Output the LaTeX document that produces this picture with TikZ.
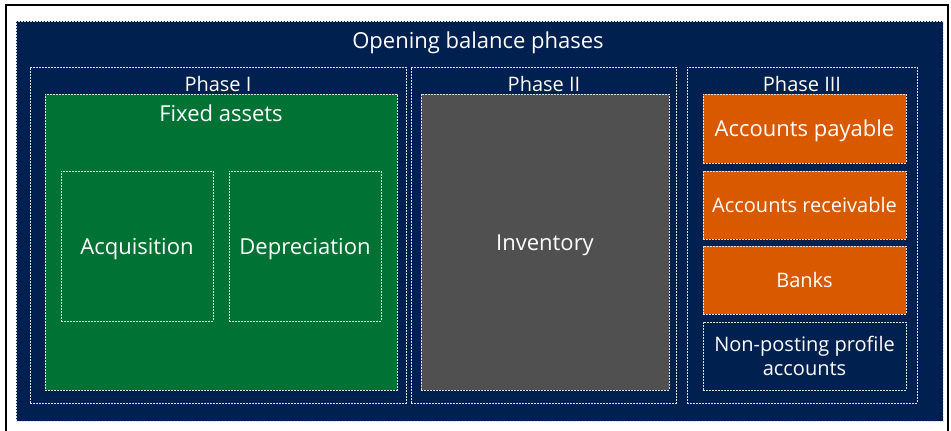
\documentclass[tikz,border=0pt]{standalone}
\usepackage{fontspec}
\setmainfont{Open Sans}
\usepackage{tikz}

\definecolor{navy}{RGB}{0,32,80}
\definecolor{fagreen}{RGB}{0,114,51}
\definecolor{invgray}{RGB}{80,80,80}
\definecolor{phorange}{RGB}{216,89,0}

\tikzset{
  box/.style={anchor=north west,inner sep=0pt,outer sep=0pt,
    draw=white!75!gray,line width=0.6pt,dash pattern=on 2pt off 1pt},
  title/.style={text=white,inner sep=0pt,text depth=0pt},
  leaf/.style={title},
  twoline/.style={text=white,inner sep=0pt,align=center},
  bigtext/.style={font=\fontsize{22}{26}\selectfont,text height=16pt},
  midtext/.style={font=\fontsize{20}{24}\selectfont,text height=14.5pt},
  midfont/.style={font=\fontsize{20}{24}\selectfont}
}

\begin{document}
\begin{tikzpicture}[x=1pt,y=-1pt]
\useasboundingbox (0,0) rectangle (951,431);
\fill[white] (0,0) rectangle (951,431);

% frame
\draw[line width=2pt] (6,431) -- (6,5) -- (948,5) -- (948,431);

% outer box
\node[box,fill=navy,minimum width=927,minimum height=400] (opening) at (16,21) {};
\node[title,bigtext] (openingtitle) at (478,40) {Opening balance phases};

% phases
\node[box,minimum width=376,minimum height=336] (phaseone) at (30,67) {};
\node[box,minimum width=265,minimum height=336] (phasetwo) at (411,67) {};
\node[box,minimum width=230,minimum height=336] (phasethree) at (687,67) {};
\node[title,midtext] (phaseonetitle) at (218,84) {Phase I};
\node[title,midtext] (phasetwotitle) at (544,84) {Phase II};
\node[title,midtext] (phasethreetitle) at (802,84) {Phase III};

% phase I
\node[box,fill=fagreen,minimum width=352,minimum height=296] (fixedassets) at (45,94) {};
\node[title,bigtext] (fixedassetstitle) at (221,113) {Fixed assets};
\node[box,minimum width=152,minimum height=150] (acquisition) at (61,171) {};
\node[box,minimum width=152,minimum height=150] (depreciation) at (229,171) {};
\node[leaf,bigtext] at (acquisition.center) {Acquisition};
\node[leaf,bigtext] at (depreciation.center) {Depreciation};

% phase II
\node[box,fill=invgray,minimum width=248,minimum height=296] (inventory) at (421,94) {};
\node[leaf,bigtext] at (inventory.center) {Inventory};

% phase III
\node[box,fill=phorange,minimum width=203,minimum height=69] (payable) at (703,94) {};
\node[box,fill=phorange,minimum width=203,minimum height=68] (receivable) at (703,171) {};
\node[box,fill=phorange,minimum width=203,minimum height=68] (banks) at (703,246) {};
\node[box,minimum width=203,minimum height=68] (nonposting) at (703,322) {};
\node[leaf,bigtext] at (payable.center) {Accounts payable};
\node[leaf,midtext] at (receivable.center) {Accounts receivable};
\node[leaf,midtext] at (banks.center) {Banks};
\node[twoline,midfont] at (nonposting.center) {Non-posting profile\\accounts};
\end{tikzpicture}
\end{document}
